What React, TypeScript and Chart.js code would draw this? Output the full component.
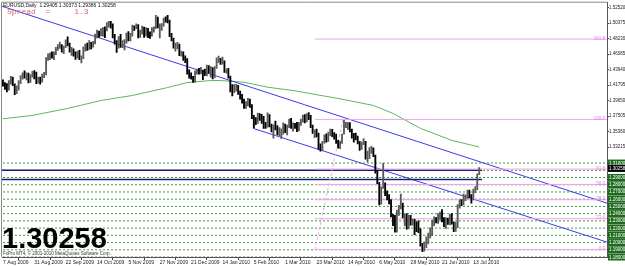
import React, { useEffect, useRef } from 'react';
import { Chart, registerables } from 'chart.js';
Chart.register(...registerables);

// ---- x axis (daily bars, one label every 16 bars) ----
const dateLabels = ['7 Aug 2009', '31 Aug 2009', '22 Sep 2009', '14 Oct 2009', '5 Nov 2009', '27 Nov 2009', '21 Dec 2009', '14 Jan 2010', '5 Feb 2010', '1 Mar 2010', '23 Mar 2010', '14 Apr 2010', '6 May 2010', '28 May 2010', '21 Jun 2010', '13 Jul 2010'];
const dateTickIdx = [0, 16, 32, 48, 64, 80, 96, 112, 128, 144, 160, 176, 192, 208, 224, 240];

// ---- EURUSD daily bars ----
const closes = [
  1.4185, 1.4145, 1.4140, 1.4215, 1.4280, 1.4190, 1.4075, 1.4150, 1.4225, 1.4290,
  1.4320, 1.4300, 1.4335, 1.4245, 1.4310, 1.4335, 1.4330, 1.4225, 1.4250, 1.4235,
  1.4300, 1.4345, 1.4550, 1.4560, 1.4605, 1.4570, 1.4625, 1.4685, 1.4715, 1.4720,
  1.4700, 1.4705, 1.4790, 1.4745, 1.4665, 1.4665, 1.4605, 1.4570, 1.4635, 1.4555,
  1.4560, 1.4695, 1.4725, 1.4690, 1.4760, 1.4715, 1.4770, 1.4870, 1.4910, 1.4905,
  1.4905, 1.4965, 1.4935, 1.5020, 1.5025, 1.5010, 1.4855, 1.4770, 1.4690, 1.4835,
  1.4715, 1.4735, 1.4775, 1.4870, 1.4855, 1.4860, 1.4995, 1.4980, 1.5010, 1.4855,
  1.4905, 1.4975, 1.4865, 1.4960, 1.4865, 1.4860, 1.4960, 1.4970, 1.5115, 1.4985,
  1.4990, 1.5010, 1.5095, 1.5085, 1.5060, 1.4865, 1.4810, 1.4705, 1.4720, 1.4725,
  1.4610, 1.4625, 1.4540, 1.4525, 1.4340, 1.4335, 1.4285, 1.4230, 1.4360, 1.4375,
  1.4365, 1.4370, 1.4340, 1.4320, 1.4410, 1.4365, 1.4405, 1.4310, 1.4410, 1.4515,
  1.4530, 1.4500, 1.4500, 1.4380, 1.4385, 1.4300, 1.4100, 1.4095, 1.4140, 1.4145,
  1.4075, 1.4030, 1.3970, 1.3865, 1.3935, 1.3955, 1.3895, 1.3725, 1.3680, 1.3665,
  1.3760, 1.3745, 1.3700, 1.3625, 1.3600, 1.3760, 1.3625, 1.3540, 1.3615, 1.3610,
  1.3510, 1.3525, 1.3545, 1.3625, 1.3560, 1.3610, 1.3690, 1.3620, 1.3630, 1.3625,
  1.3565, 1.3650, 1.3690, 1.3755, 1.3685, 1.3775, 1.3745, 1.3610, 1.3530, 1.3535,
  1.3510, 1.3310, 1.3280, 1.3385, 1.3475, 1.3410, 1.3510, 1.3555, 1.3490, 1.3480,
  1.3390, 1.3355, 1.3385, 1.3490, 1.3605, 1.3610, 1.3645, 1.3555, 1.3505, 1.3480,
  1.3465, 1.3390, 1.3340, 1.3375, 1.3375, 1.3180, 1.3235, 1.3270, 1.3295, 1.3210,
  1.2985, 1.2820, 1.2610, 1.2750, 1.2780, 1.2700, 1.2625, 1.2570, 1.2390, 1.2355,
  1.2225, 1.2425, 1.2490, 1.2550, 1.2365, 1.2365, 1.2205, 1.2365, 1.2270, 1.2295,
  1.2230, 1.2225, 1.2160, 1.1965, 1.1915, 1.1970, 1.1980, 1.2100, 1.2105, 1.2285,
  1.2320, 1.2290, 1.2380, 1.2390, 1.2315, 1.2240, 1.2320, 1.2285, 1.2375, 1.2275,
  1.2190, 1.2225, 1.2505, 1.2565, 1.2545, 1.2625, 1.2630, 1.2715, 1.2640, 1.2615,
  1.2725, 1.2745, 1.2940, 1.30258,
];
const highs = [
  1.4250, 1.4215, 1.4200, 1.4240, 1.4300, 1.4290, 1.4195, 1.4170, 1.4240, 1.4310,
  1.4350, 1.4375, 1.4350, 1.4345, 1.4325, 1.4370, 1.4380, 1.4360, 1.4290, 1.4290,
  1.4330, 1.4355, 1.4560, 1.4610, 1.4625, 1.4640, 1.4640, 1.4700, 1.4740, 1.4775,
  1.4740, 1.4720, 1.4805, 1.4845, 1.4760, 1.4700, 1.4680, 1.4640, 1.4650, 1.4660,
  1.4585, 1.4710, 1.4745, 1.4760, 1.4795, 1.4770, 1.4785, 1.4885, 1.4940, 1.4925,
  1.4960, 1.4975, 1.4985, 1.5045, 1.5060, 1.5060, 1.5025, 1.4880, 1.4795, 1.4850,
  1.4880, 1.4795, 1.4810, 1.4900, 1.4920, 1.4895, 1.5010, 1.5000, 1.5025, 1.5015,
  1.4940, 1.4995, 1.4980, 1.4975, 1.4965, 1.4915, 1.4975, 1.4985, 1.5145, 1.5120,
  1.5025, 1.5030, 1.5105, 1.5125, 1.5145, 1.5080, 1.4895, 1.4830, 1.4760, 1.4770,
  1.4745, 1.4650, 1.4640, 1.4585, 1.4545, 1.4390, 1.4350, 1.4300, 1.4375, 1.4400,
  1.4410, 1.4425, 1.4385, 1.4400, 1.4455, 1.4450, 1.4435, 1.4420, 1.4435, 1.4555,
  1.4580, 1.4550, 1.4565, 1.4515, 1.4405, 1.4410, 1.4305, 1.4185, 1.4185, 1.4190,
  1.4175, 1.4095, 1.4050, 1.3985, 1.3950, 1.3995, 1.3985, 1.3910, 1.3760, 1.3730,
  1.3790, 1.3785, 1.3775, 1.3745, 1.3665, 1.3795, 1.3770, 1.3640, 1.3630, 1.3680,
  1.3620, 1.3590, 1.3575, 1.3655, 1.3640, 1.3625, 1.3710, 1.3720, 1.3655, 1.3650,
  1.3665, 1.3665, 1.3710, 1.3765, 1.3770, 1.3785, 1.3800, 1.3760, 1.3625, 1.3560,
  1.3570, 1.3515, 1.3365, 1.3400, 1.3490, 1.3505, 1.3530, 1.3570, 1.3565, 1.3520,
  1.3500, 1.3415, 1.3405, 1.3500, 1.3690, 1.3665, 1.3665, 1.3660, 1.3570, 1.3510,
  1.3515, 1.3475, 1.3400, 1.3390, 1.3440, 1.3400, 1.3265, 1.3315, 1.3330, 1.3310,
  1.3210, 1.3000, 1.2835, 1.2770, 1.3095, 1.2825, 1.2715, 1.2665, 1.2595, 1.2390,
  1.2375, 1.2450, 1.2515, 1.2670, 1.2545, 1.2390, 1.2400, 1.2380, 1.2375, 1.2325,
  1.2320, 1.2285, 1.2300, 1.2195, 1.1990, 1.2010, 1.2080, 1.2130, 1.2205, 1.2310,
  1.2355, 1.2345, 1.2400, 1.2420, 1.2455, 1.2345, 1.2345, 1.2340, 1.2390, 1.2400,
  1.2285, 1.2280, 1.2525, 1.2590, 1.2595, 1.2670, 1.2660, 1.2725, 1.2725, 1.2665,
  1.2740, 1.2775, 1.2950, 1.30373,
];
const lows = [
  1.4165, 1.4120, 1.4085, 1.4110, 1.4190, 1.4170, 1.4045, 1.4060, 1.4110, 1.4200,
  1.4260, 1.4275, 1.4250, 1.4210, 1.4215, 1.4290, 1.4265, 1.4200, 1.4205, 1.4190,
  1.4220, 1.4280, 1.4320, 1.4520, 1.4530, 1.4550, 1.4530, 1.4600, 1.4660, 1.4685,
  1.4635, 1.4615, 1.4695, 1.4720, 1.4635, 1.4590, 1.4580, 1.4535, 1.4550, 1.4530,
  1.4485, 1.4545, 1.4650, 1.4660, 1.4670, 1.4680, 1.4705, 1.4750, 1.4830, 1.4840,
  1.4860, 1.4855, 1.4835, 1.4930, 1.4980, 1.4965, 1.4830, 1.4745, 1.4630, 1.4690,
  1.4700, 1.4695, 1.4665, 1.4760, 1.4790, 1.4790, 1.4855, 1.4935, 1.4960, 1.4830,
  1.4840, 1.4885, 1.4840, 1.4855, 1.4835, 1.4825, 1.4855, 1.4910, 1.4960, 1.4970,
  1.4830, 1.4935, 1.4995, 1.5050, 1.5040, 1.4850, 1.4790, 1.4690, 1.4650, 1.4680,
  1.4585, 1.4580, 1.4520, 1.4490, 1.4330, 1.4275, 1.4260, 1.4215, 1.4220, 1.4330,
  1.4330, 1.4335, 1.4255, 1.4310, 1.4305, 1.4345, 1.4290, 1.4265, 1.4280, 1.4410,
  1.4490, 1.4465, 1.4470, 1.4355, 1.4345, 1.4275, 1.4085, 1.4030, 1.4075, 1.4095,
  1.4050, 1.3985, 1.3930, 1.3855, 1.3855, 1.3890, 1.3870, 1.3715, 1.3585, 1.3630,
  1.3650, 1.3690, 1.3650, 1.3580, 1.3580, 1.3595, 1.3600, 1.3530, 1.3445, 1.3560,
  1.3490, 1.3480, 1.3440, 1.3500, 1.3520, 1.3490, 1.3590, 1.3580, 1.3540, 1.3580,
  1.3535, 1.3545, 1.3620, 1.3665, 1.3655, 1.3670, 1.3700, 1.3590, 1.3510, 1.3450,
  1.3460, 1.3290, 1.3265, 1.3270, 1.3375, 1.3390, 1.3400, 1.3480, 1.3465, 1.3430,
  1.3370, 1.3305, 1.3300, 1.3370, 1.3500, 1.3590, 1.3565, 1.3530, 1.3445, 1.3390,
  1.3420, 1.3365, 1.3275, 1.3290, 1.3355, 1.3155, 1.3115, 1.3160, 1.3235, 1.3190,
  1.2960, 1.2815, 1.2520, 1.2530, 1.2750, 1.2650, 1.2590, 1.2535, 1.2355, 1.2235,
  1.2145, 1.2145, 1.2375, 1.2465, 1.2340, 1.2235, 1.2185, 1.2190, 1.2240, 1.2240,
  1.2110, 1.2150, 1.2135, 1.1950, 1.1875, 1.1880, 1.1930, 1.1980, 1.2065, 1.2100,
  1.2235, 1.2270, 1.2265, 1.2320, 1.2285, 1.2220, 1.2195, 1.2250, 1.2245, 1.2255,
  1.2150, 1.2155, 1.2205, 1.2475, 1.2510, 1.2520, 1.2580, 1.2610, 1.2620, 1.2545,
  1.2590, 1.2690, 1.2730, 1.29386,
];

// ---- moving average (read at sample bars) ----
const maIndex = [0, 15, 33, 50, 66, 84, 94, 106, 111, 123, 135, 148, 172, 189, 199, 213, 229, 243];
const maValues = [1.3713, 1.3759, 1.3856, 1.3966, 1.4035, 1.4145, 1.4214, 1.4242, 1.4242, 1.4219, 1.4150, 1.4104, 1.3989, 1.3897, 1.3787, 1.3580, 1.3414, 1.3322];

// ---- drawn objects (bar index, price) ----
const upperTrend = [{ x: -0.5, y: 1.5270 }, { x: 308.2, y: 1.2545 }];
const lowerTrend = [{ x: 127.6, y: 1.3580 }, { x: 308.2, y: 1.2006 }];
const navyLevels = [1.3000, 1.2872];
const navyEnd = 244.4;
const levelLines = [1.31, 1.30, 1.29, 1.28, 1.27, 1.26, 1.25, 1.24, 1.23, 1.22, 1.21, 1.20, 1.19, 1.18];
const fibLow = 1.1905;
const fibHigh = 1.3704;
const fibStart = 159.2;
const fibEnd = 173.5;
const fibRatios = [0, 0.236, 0.382, 0.5, 0.618, 1, 1.618];
const fibLabels = ['0.0', '23.6', '38.2', '50.0', '61.8', '100.0', '161.8'];
const priceTicks = [1.52520, 1.50375, 1.48230, 1.46085, 1.43940, 1.41795, 1.39650, 1.37505, 1.35360, 1.33215];
const lastPrice = 1.30258;

const X_MIN = -0.5;
const X_MAX = 308.2;
const Y_MIN = 1.18;
const Y_MAX = 1.5319;
const FONT = "'Liberation Sans', Arial, sans-serif";

const lineDs = (data: { x: number; y: number }[], color: string, width = 1, dash: number[] = [], order = 2) => ({
  type: 'line' as const,
  data,
  borderColor: color,
  borderWidth: width,
  borderDash: dash,
  pointRadius: 0,
  fill: false,
  tension: 0,
  order,
});

const overlayPlugin = {
  id: 'mt4overlay',
  afterDraw(chart: any) {
    const { ctx, chartArea, scales } = chart;
    const y = scales.y;
    ctx.save();
    // frame
    ctx.strokeStyle = '#8a8a8a';
    ctx.lineWidth = 1;
    ctx.beginPath();
    ctx.moveTo(chartArea.left - 0.5, chartArea.bottom);
    ctx.lineTo(chartArea.left - 0.5, chartArea.top - 0.5);
    ctx.lineTo(chartArea.right, chartArea.top - 0.5);
    ctx.stroke();
    // fib labels
    ctx.font = `4.5px ${FONT}`;
    ctx.fillStyle = '#e07ee0';
    ctx.textAlign = 'right';
    ctx.textBaseline = 'bottom';
    fibRatios.forEach((r, k) => {
      const py = y.getPixelForValue(fibLow + r * (fibHigh - fibLow));
      ctx.fillText(fibLabels[k], chartArea.right - 2, py + 1.5);
    });
    // axis price boxes for horizontal lines
    ctx.textAlign = 'left';
    ctx.textBaseline = 'middle';
    levelLines.forEach((v) => {
      if (Math.abs(v - 1.30) < 1e-9) return;
      const py = y.getPixelForValue(v);
      ctx.fillStyle = '#1f6a1f';
      ctx.fillRect(chartArea.right + 1, py - 3.5, 17, 7);
      ctx.fillStyle = '#ffffff';
      ctx.fillText(v.toFixed(5), chartArea.right + 2, py + 0.3);
    });
    const pl = y.getPixelForValue(lastPrice);
    ctx.fillStyle = '#000000';
    ctx.fillRect(chartArea.right + 1, pl - 3.5, 17, 7);
    ctx.fillStyle = '#ffffff';
    ctx.fillText(lastPrice.toFixed(5), chartArea.right + 2, pl + 0.3);
    ctx.restore();
  },
};

export default function App() {
  const ref = useRef<HTMLCanvasElement>(null);
  useEffect(() => {
    document.body.style.margin = '0';
    const candleData = closes.map((c, i) => ({ x: i, y: [lows[i], highs[i]] }));
    const candleColors = closes.map((c, i) => (i > 0 && c >= closes[i - 1] ? '#5a5a5a' : '#000000'));
    const datasets: any[] = [
      {
        type: 'bar',
        data: candleData,
        backgroundColor: candleColors,
        borderWidth: 0,
        barThickness: 1.2,
        grouped: false,
        order: 0,
      },
    ];
    fibRatios.forEach((r) => {
      const v = fibLow + r * (fibHigh - fibLow);
      datasets.push(lineDs([{ x: fibStart, y: v }, { x: 312, y: v }], '#f2a2ef', 1, [], 1));
    });
    datasets.push(lineDs([{ x: fibStart, y: fibLow }, { x: fibEnd, y: fibHigh }], '#f2a2ef', 1, [3, 2], 1));
    levelLines.forEach((v) => datasets.push(lineDs([{ x: -2, y: v }, { x: 312, y: v }], '#3a9a3a', 1, [2, 2])));
    navyLevels.forEach((v) => datasets.push(lineDs([{ x: -2, y: v }, { x: navyEnd, y: v }], '#1c1c78', 1.4, [], 1)));
    datasets.push(lineDs(upperTrend, '#3b3bef', 1, [], 1));
    datasets.push(lineDs(lowerTrend, '#3b3bef', 1, [], 1));
    datasets.push(lineDs(maIndex.map((x, k) => ({ x, y: maValues[k] })), '#5cb85c', 1, [], 1));

    const chart = new Chart(ref.current as HTMLCanvasElement, {
      type: 'bar',
      data: { datasets },
      options: {
        responsive: false,
        animation: false,
        devicePixelRatio: 1,
        layout: { padding: { left: 2, top: 2, right: 0, bottom: 0 } },
        plugins: { legend: { display: false }, tooltip: { enabled: false } },
        scales: {
          x: {
            type: 'linear',
            min: X_MIN,
            max: X_MAX,
            offset: false,
            bounds: 'data',
            grid: { display: true, drawOnChartArea: false, tickLength: 3, color: '#444' },
            border: { display: true, color: '#555' },
            afterBuildTicks: (s: any) => {
              s.ticks = dateTickIdx.map((v) => ({ value: v }));
            },
            afterFit: (s: any) => {
              s.height = 9;
            },
            ticks: {
              autoSkip: false,
              maxRotation: 0,
              minRotation: 0,
              align: 'start',
              padding: 0,
              color: '#222',
              font: { size: 5, family: FONT },
              callback: (v: any) => {
                const k = dateTickIdx.indexOf(Number(v));
                return k >= 0 ? dateLabels[k] : '';
              },
            },
          },
          y: {
            type: 'linear',
            position: 'right',
            min: Y_MIN,
            max: Y_MAX,
            bounds: 'data',
            grid: { display: true, drawOnChartArea: false, tickLength: 2, color: '#444' },
            border: { display: true, color: '#555' },
            afterBuildTicks: (s: any) => {
              s.ticks = priceTicks.map((v) => ({ value: v }));
            },
            afterFit: (s: any) => {
              s.width = 18;
            },
            ticks: {
              autoSkip: false,
              padding: 0,
              color: '#222',
              font: { size: 4.5, family: FONT },
              callback: (v: any) => Number(v).toFixed(5),
            },
          },
        },
      } as any,
      plugins: [overlayPlugin],
    });
    return () => chart.destroy();
  }, []);

  return (
    <div style={{ position: 'relative', width: 625, height: 266, background: '#fff', overflow: 'hidden' }}>
      <canvas ref={ref} width={625} height={266} style={{ display: 'block', width: 625, height: 266 }} />
      <div style={{ position: 'absolute', left: 3, top: 2, font: `5px ${FONT}`, color: '#111', whiteSpace: 'pre', lineHeight: '6px' }}>
        EURUSD,Daily  1.29405 1.30373 1.29386 1.30258
      </div>
      <div style={{ position: 'absolute', left: 7, top: 7, font: "8px 'Liberation Mono', monospace", color: '#e06666', whiteSpace: 'pre', lineHeight: '9px' }}>
        {'Spread  =     1.3'}
      </div>
      <div style={{ position: 'absolute', left: 2, top: 224, font: `bold 29px ${FONT}`, color: '#000', lineHeight: '29px', whiteSpace: 'pre' }}>
        1.30258
      </div>
      <div style={{ position: 'absolute', left: 3, top: 251, font: `4.5px ${FONT}`, color: '#333', whiteSpace: 'pre', lineHeight: '5px' }}>
        FxPro MT4, © 2001-2010 MetaQuotes Software Corp.
      </div>
    </div>
  );
}
